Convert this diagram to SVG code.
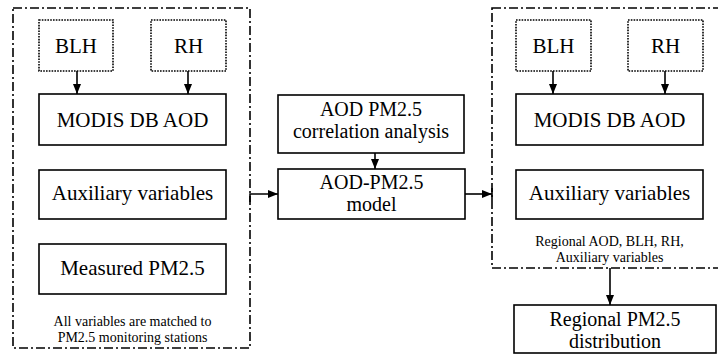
<svg xmlns="http://www.w3.org/2000/svg" width="718" height="356" viewBox="0 0 718 356">
<style>
.grp{fill:none;stroke:#000;stroke-width:1.6;stroke-dasharray:9 3 2 3}
.dot{fill:#fff;stroke:#000;stroke-width:1.6;stroke-dasharray:1.6 1.2}
.box{fill:#fff;stroke:#000;stroke-width:1.6}
.t{font-family:'Liberation Serif','Times New Roman','DejaVu Serif',serif;font-size:21px;text-anchor:middle;fill:#000}
.s{font-family:'Liberation Serif','Times New Roman','DejaVu Serif',serif;font-size:14px;text-anchor:middle;fill:#000}
.c{fill:none;stroke:#000;stroke-width:1.6}
</style>
<defs>
<marker id="ah" viewBox="0 0 10 8" refX="10" refY="4" markerWidth="10" markerHeight="8" markerUnits="userSpaceOnUse" orient="auto">
<path d="M0,0 L10,4 L0,8 Z" fill="#000"/>
</marker>
</defs>
<rect width="718" height="356" fill="#fff"/>

<g id="left-group">
<rect class="grp" x="13" y="8" width="237" height="340"/>
<text class="s" x="132.5" y="326">All variables are matched to</text>
<text class="s" x="132.5" y="342">PM2.5 monitoring stations</text>
</g>
<g id="right-group">
<rect class="grp" x="492" y="8" width="240" height="260"/>
<text class="s" x="609.5" y="246">Regional AOD, BLH, RH,</text>
<text class="s" x="609.5" y="262">Auxiliary variables</text>
</g>

<g id="connectors">
<line class="c" x1="77" y1="71" x2="77" y2="94" marker-end="url(#ah)"/>
<line class="c" x1="188" y1="71" x2="188" y2="94" marker-end="url(#ah)"/>
<line class="c" x1="553" y1="71" x2="553" y2="94" marker-end="url(#ah)"/>
<line class="c" x1="665" y1="71" x2="665" y2="94" marker-end="url(#ah)"/>
<line class="c" x1="375" y1="153" x2="375" y2="169" marker-end="url(#ah)"/>
<path class="c" d="M250,202 L250,194 L278,194" marker-end="url(#ah)"/>
<line class="c" x1="465" y1="194" x2="492" y2="194" marker-end="url(#ah)"/>
<line class="c" x1="492" y1="188" x2="492" y2="200"/>
<line class="c" x1="610" y1="268" x2="610" y2="305" marker-end="url(#ah)"/>
</g>

<g id="blh-left"><rect class="dot" x="39" y="20" width="74" height="51"/><text class="t" x="76" y="53">BLH</text></g>
<g id="rh-left"><rect class="dot" x="151" y="20" width="75" height="51"/><text class="t" x="188.5" y="53">RH</text></g>
<g id="modis-left"><rect class="box" x="39" y="94" width="187" height="51"/><text class="t" x="132.5" y="127">MODIS DB AOD</text></g>
<g id="aux-left"><rect class="box" x="39" y="170" width="187" height="49"/><text class="t" x="132.5" y="200">Auxiliary variables</text></g>
<g id="measured"><rect class="box" x="39" y="244" width="187" height="50"/><text class="t" x="132.5" y="275">Measured PM2.5</text></g>

<g id="correlation"><rect class="box" x="278" y="95" width="186" height="58"/><text class="t" x="371" y="116" style="font-size:20px">AOD PM2.5</text><text class="t" x="371" y="138" style="font-size:20px">correlation analysis</text></g>
<g id="model"><rect class="box" x="278" y="169" width="187" height="50"/><text class="t" x="371.5" y="189" style="font-size:20px">AOD-PM2.5</text><text class="t" x="371.5" y="211" style="font-size:20px">model</text></g>

<g id="blh-right"><rect class="dot" x="516" y="20" width="75" height="51"/><text class="t" x="553.5" y="53">BLH</text></g>
<g id="rh-right"><rect class="dot" x="628" y="20" width="75" height="51"/><text class="t" x="665.5" y="53">RH</text></g>
<g id="modis-right"><rect class="box" x="516" y="94" width="187" height="51"/><text class="t" x="609.5" y="127">MODIS DB AOD</text></g>
<g id="aux-right"><rect class="box" x="516" y="170" width="187" height="49"/><text class="t" x="609.5" y="200">Auxiliary variables</text></g>
<g id="regional"><rect class="box" x="514" y="305" width="202" height="48"/><text class="t" x="615" y="326" style="font-size:20px">Regional PM2.5</text><text class="t" x="615" y="348" style="font-size:20px">distribution</text></g>
</svg>
